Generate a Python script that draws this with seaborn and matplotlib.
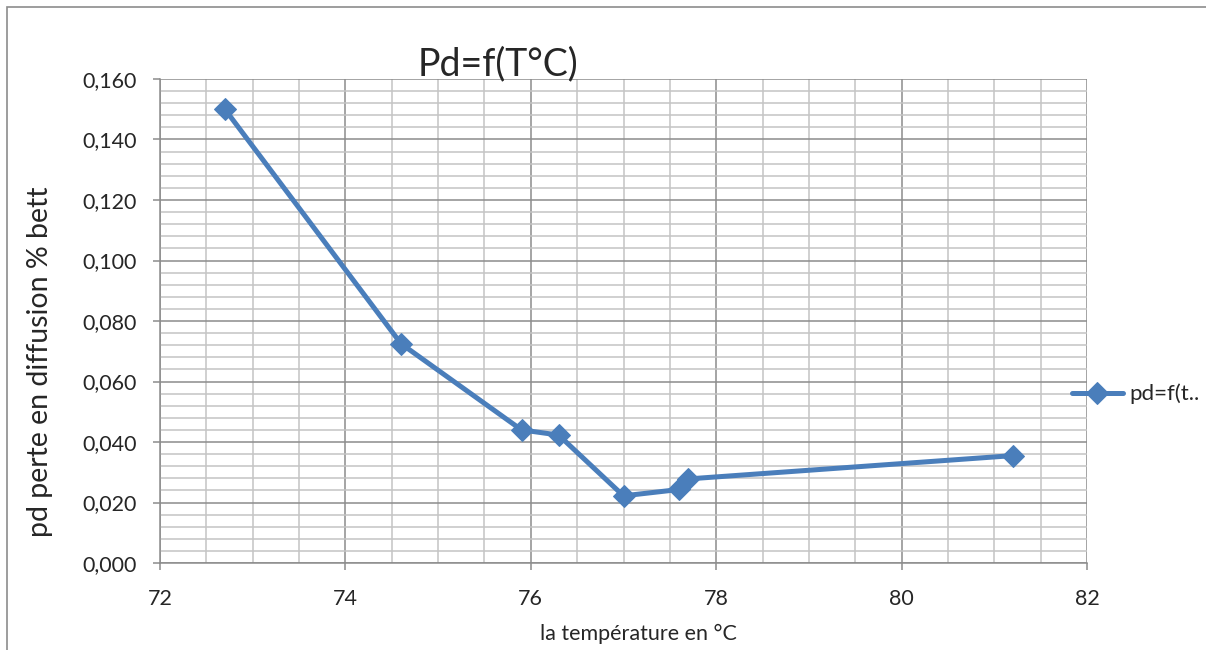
import matplotlib
matplotlib.use("Agg")
import matplotlib.pyplot as plt
from matplotlib.ticker import MultipleLocator, FuncFormatter
from matplotlib.patches import Rectangle
import seaborn as sns
import pandas as pd

temperature = [72.7, 74.6, 75.9, 76.3, 77.0, 77.6, 77.7, 81.2]
pd_loss = [0.150, 0.0725, 0.0440, 0.0423, 0.0222, 0.0243, 0.0278, 0.0355]
series_name = "pd=f(t.."

df = pd.DataFrame({"T": temperature, "pd": pd_loss, "s": series_name})

sns.set_style("white")
plt.rcParams["font.family"] = ["Lato", "DejaVu Sans"]

fig = plt.figure(figsize=(12.06, 6.5), dpi=100)
ax = fig.add_axes([160/1206, 1-563/650, (1087-160)/1206, (563-79)/650])

color = "#4A7EBB"
sns.lineplot(data=df, x="T", y="pd", hue="s", palette=[color], marker="D",
             markersize=11.5, linewidth=3.6, markeredgecolor=color, sort=False,
             ax=ax, legend=True)

ax.set_xlim(72, 82)
ax.set_ylim(0, 0.160)
ax.xaxis.set_major_locator(MultipleLocator(2))
ax.xaxis.set_minor_locator(MultipleLocator(0.5))
ax.yaxis.set_major_locator(MultipleLocator(0.020))
ax.yaxis.set_minor_locator(MultipleLocator(0.004))
ax.yaxis.set_major_formatter(FuncFormatter(lambda v, p: f"{v:.3f}".replace(".", ",")))
ax.xaxis.set_major_formatter(FuncFormatter(lambda v, p: f"{v:.0f}"))

ax.grid(which="major", color="#8C8C8C", linewidth=1.1)
ax.grid(which="minor", color="#C4C4C4", linewidth=1.1)
ax.set_axisbelow(True)

for side in ["top", "right"]:
    ax.spines[side].set_visible(False)
for side in ["left", "bottom"]:
    ax.spines[side].set_color("#8C8C8C")
    ax.spines[side].set_linewidth(1.1)

ax.tick_params(axis="both", which="major", direction="out", length=5, width=1.1,
               color="#8C8C8C", labelsize=15.5, bottom=True, left=True)
ax.tick_params(axis="y", which="major", pad=12)
ax.tick_params(axis="x", which="major", pad=14)
ax.tick_params(axis="both", which="minor", length=0)

ax.set_xlabel("la température en °C", fontsize=15.5, labelpad=8)
ax.xaxis.set_label_coords((638-160)/(1087-160), -(634-563)/(563-79))
ax.xaxis.label.set_va("center")
ax.set_ylabel("pd perte en diffusion % bett", fontsize=20.5)
ax.yaxis.set_label_coords(-(160-40)/(1087-160), (563-362)/(563-79))
ax.yaxis.label.set_va("center")
ax.set_title("Pd=f(T°C)", fontsize=27, pad=3, x=(498-160)/(1087-160))

leg = ax.legend(loc="center left", bbox_to_anchor=(1087/1206-0.02, 1-394/650),
                bbox_transform=fig.transFigure, frameon=False, fontsize=16,
                handlelength=2.3, handletextpad=0.3, borderaxespad=0)

fig.patches.append(Rectangle((7/1206, 1-700/650), 1.2, (700-7)/650, transform=fig.transFigure,
                             fill=False, edgecolor="#8C8C8C", linewidth=1.2))

fig.savefig("out.png", dpi=100)
